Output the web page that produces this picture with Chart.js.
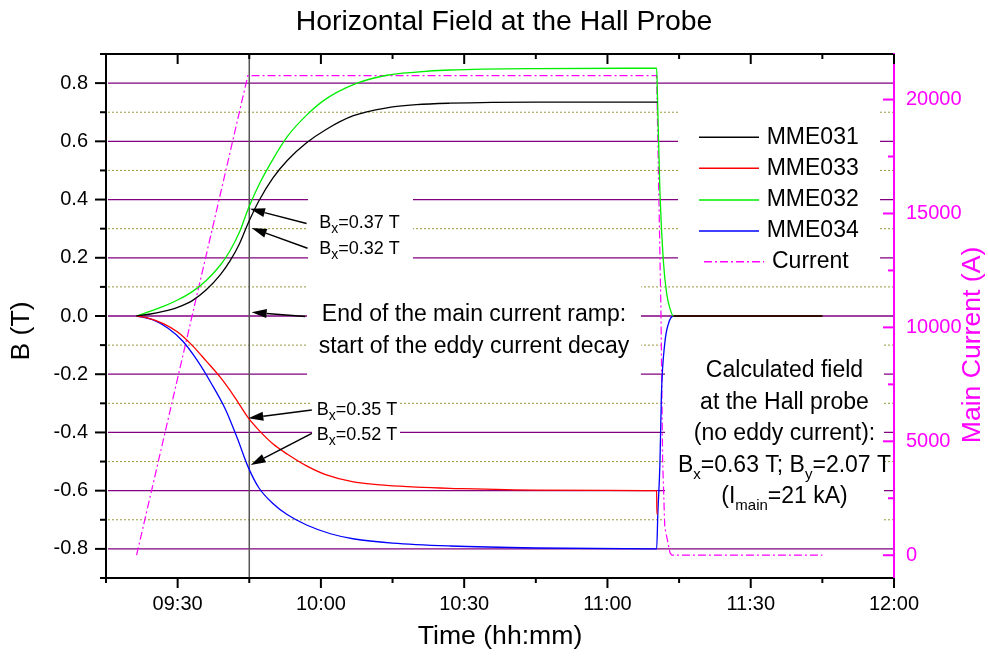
<!DOCTYPE html>
<html><head><meta charset="utf-8">
<script src="https://cdn.jsdelivr.net/npm/chart.js@4.4.1/dist/chart.umd.min.js"></script>
<style>html,body{margin:0;padding:0;background:#fff;}#wrap{width:988px;height:657px;}</style>
</head><body><div id="wrap"><canvas id="c" width="988" height="657"></canvas></div>
<script>
const FAM = '"Liberation Sans", Arial, Helvetica, sans-serif';

// ---- data (time in minutes since midnight) ----
const t031 = [561.4,564,567,570,573,576,579,581,583,584.8,587,590,593,597,601,606.8,613.8,620,627,645,670.3,670.5,671,671.7,672.4,673.2,673.8,705];
const b031 = [0,0.006,0.016,0.03,0.052,0.09,0.143,0.19,0.25,0.32,0.395,0.475,0.535,0.595,0.64,0.688,0.715,0.726,0.731,0.735,0.735,0.735,0.42,0.19,0.077,0.02,0,0];

const t033 = [561.4,564,567,570,573,576,579,582,584.8,587,590,593,597,601,606.8,613.8,620,627,645,670.3,670.35,670.55,671,671.3,672,672.8,673.8,705];
const b033 = [0,-0.008,-0.026,-0.055,-0.10,-0.155,-0.212,-0.28,-0.35,-0.392,-0.44,-0.475,-0.515,-0.545,-0.57,-0.582,-0.588,-0.592,-0.598,-0.60,-0.68,-0.68,-0.5,-0.27,-0.094,-0.025,0,0];

const t032 = [561.4,564,567,570,573,576,579,581,583,584.8,587,590,593,597,601,606.8,613.8,620,627,645,670.3,670.5,671,671.7,672.4,673.2,673.8,705];
const b032 = [0,0.015,0.033,0.055,0.083,0.122,0.176,0.225,0.29,0.369,0.45,0.54,0.617,0.69,0.745,0.795,0.827,0.838,0.845,0.850,0.851,0.735,0.42,0.19,0.077,0.02,0,0];

const t034 = [561.4,565,568,571,574,577,580,582.5,584.8,587,590,593,597,602,607,615,627,645,670.3,670.55,671,671.3,672,672.8,673.8,705];
const b034 = [0,-0.014,-0.042,-0.085,-0.15,-0.23,-0.32,-0.42,-0.52,-0.59,-0.645,-0.683,-0.718,-0.748,-0.766,-0.780,-0.790,-0.797,-0.80,-0.68,-0.5,-0.27,-0.094,-0.025,0,0];

const tCur = [561.4,584.7,670.3,671.2,671.55,672.0,673.1,673.5,705];
const iCur = [0,21050,21050,10750,4180,1240,100,0,0];

// axes
const xMin = 555, xMax = 720, xStep = 15;     // 09:15 .. 12:00
const yMin = -0.9, yMax = 0.9, yStep = 0.1;
const y2Min = -1000, y2Max = 22000;
const y2Ticks = [0,2500,5000,7500,10000,12500,15000,17500,20000];

const names = ['MME031','MME033','MME032','MME034','Current'];
const colors = ['#000000','#ff0000','#00ee00','#0000ff','#ff00ff'];
// during the final drop MME031 lies under MME032 and MME033 under MME034
const hiddenFrom = [670.5, 670.55, null, null, null];
const hiddenTo = 673.8;

// annotation arrows (tail -> tip) in data coordinates (minutes, B)
const arrows = [
  [597.0, 0.318, 585.15, 0.368],
  [597.2, 0.233, 585.5, 0.302],
  [596.7, -0.002, 585.5, 0.013],
  [598.1, -0.323, 584.8, -0.351],
  [598.1, -0.403, 585.3, -0.512]
];

function pts(ts, vs){ return ts.map((t,i)=>({x:t, y:vs[i]})); }
function pad2(n){ return (n<10?'0':'')+n; }
function underSeg(i){
  return { borderColor: c => (hiddenFrom[i] !== null && c.p0.parsed.x >= hiddenFrom[i] && c.p1.parsed.x <= hiddenTo) ? 'rgba(0,0,0,0)' : undefined };
}

function richWidth(ctx, segs, size, sub){
  let w=0; segs.forEach(([s,isSub])=>{ ctx.font=(isSub?sub:size)+'px '+FAM; w+=ctx.measureText(s).width; }); return w;
}
function drawRich(ctx, segs, x, cy, size, sub, dy, align){
  const w = richWidth(ctx, segs, size, sub);
  let cx = align==='center' ? x - w/2 : x;
  ctx.textAlign='left'; ctx.textBaseline='alphabetic';
  const base = cy + 0.358*size;
  segs.forEach(([s,isSub])=>{
    ctx.font=(isSub?sub:size)+'px '+FAM;
    ctx.fillText(s, cx, isSub ? base+dy : base);
    cx += ctx.measureText(s).width;
  });
}
function arrow(ctx, x1,y1,x2,y2){
  const ang = Math.atan2(y2-y1, x2-x1), L=15, H=4.5;
  const bx = x2 - L*Math.cos(ang), by = y2 - L*Math.sin(ang);
  ctx.beginPath(); ctx.moveTo(x1,y1); ctx.lineTo(bx,by); ctx.stroke();
  ctx.beginPath(); ctx.moveTo(x2,y2);
  ctx.lineTo(bx + H*Math.sin(ang), by - H*Math.cos(ang));
  ctx.lineTo(bx - H*Math.sin(ang), by + H*Math.cos(ang));
  ctx.closePath(); ctx.fill();
}

const deco = {
  id:'deco',
  beforeDatasetsDraw(chart){
    const {ctx, chartArea:a, scales:{x,y}} = chart;
    ctx.save();
    y.ticks.forEach(tk=>{
      const k = Math.round(tk.value*10);
      if (Math.abs(k) >= 9) return;
      const py = y.getPixelForValue(tk.value);
      ctx.beginPath();
      if (k % 2 === 0){ ctx.setLineDash([]); ctx.strokeStyle='#800080'; ctx.lineWidth=1.3; }
      else { ctx.setLineDash([2,2]); ctx.strokeStyle='#9a9a3a'; ctx.lineWidth=1; }
      ctx.moveTo(a.left+2, py); ctx.lineTo(a.right-1, py); ctx.stroke();
    });
    ctx.setLineDash([]);
    ctx.fillStyle='#ffffff';
    [[678,100,202,182],[308,193,105,71],[307,281,334,105],[312,392,88,63],[665,338,219,194]]
      .forEach(b=>ctx.fillRect(b[0],b[1],b[2],b[3]));
    const vx = x.getPixelForValue(585);
    ctx.strokeStyle='#555555'; ctx.lineWidth=1.5;
    ctx.beginPath(); ctx.moveTo(vx, a.top); ctx.lineTo(vx, a.bottom); ctx.stroke();
    ctx.restore();
  },
  afterDatasetsDraw(chart){
    const {ctx, chartArea:a, scales:{x,y,y2}} = chart;
    ctx.save();
    ctx.lineWidth=2; ctx.strokeStyle='#000';
    ctx.beginPath(); ctx.moveTo(a.left, a.top); ctx.lineTo(a.left, a.bottom); ctx.lineTo(a.right, a.bottom); ctx.stroke();
    ctx.beginPath(); ctx.moveTo(a.left, a.top); ctx.lineTo(a.right, a.top); ctx.stroke();
    ctx.strokeStyle='#ff00ff';
    ctx.beginPath(); ctx.moveTo(a.right, a.top-1); ctx.lineTo(a.right, a.bottom+1); ctx.stroke();
    ctx.strokeStyle='#000';
    x.ticks.forEach(tk=>{
      const px = x.getPixelForValue(tk.value);
      const L = (tk.value % 30 === 0) ? 10 : 5;
      ctx.beginPath(); ctx.moveTo(px, a.bottom); ctx.lineTo(px, a.bottom+L); ctx.stroke();
      ctx.beginPath(); ctx.moveTo(px, a.top); ctx.lineTo(px, a.top+L); ctx.stroke();
    });
    y.ticks.forEach(tk=>{
      const py = y.getPixelForValue(tk.value);
      const major = Math.round(tk.value*10) % 2 === 0;
      ctx.beginPath(); ctx.moveTo(a.left, py); ctx.lineTo(a.left-(major?11:6), py); ctx.stroke();
    });
    ctx.strokeStyle='#ff00ff';
    y2.ticks.forEach(tk=>{
      const py = y2.getPixelForValue(tk.value);
      const major = tk.value % 5000 === 0;
      ctx.beginPath(); ctx.moveTo(a.right, py); ctx.lineTo(a.right-(major?11:6), py); ctx.stroke();
    });

    // legend
    const rows = [137.3,168.3,200,231,261.7];
    chart.data.datasets.forEach((ds,i)=>{
      const cy = rows[i];
      ctx.strokeStyle = ds.borderColor; ctx.lineWidth = 1.4;
      ctx.setLineDash(ds.borderDash || []);
      const x0 = i===4 ? 704 : 699;
      ctx.beginPath(); ctx.moveTo(x0, cy); ctx.lineTo(x0+60, cy); ctx.stroke();
      ctx.setLineDash([]);
      ctx.fillStyle='#000'; ctx.font='23px '+FAM; ctx.textAlign='left'; ctx.textBaseline='middle';
      ctx.fillText(ds.label, i===4 ? 772 : 766.7, cy);
    });

    ctx.strokeStyle='#000'; ctx.fillStyle='#000'; ctx.lineWidth=1.5;
    arrows.forEach(r=>arrow(ctx, x.getPixelForValue(r[0]), y.getPixelForValue(r[1]), x.getPixelForValue(r[2]), y.getPixelForValue(r[3])));

    ctx.fillStyle='#000';
    drawRich(ctx, [['B',0],['x',1],['=0.37 T',0]], 319.3, 221.7, 18, 14, 5, 'left');
    drawRich(ctx, [['B',0],['x',1],['=0.32 T',0]], 319.3, 247.3, 18, 14, 5, 'left');
    drawRich(ctx, [['B',0],['x',1],['=0.35 T',0]], 316.7, 409, 18, 14, 5, 'left');
    drawRich(ctx, [['B',0],['x',1],['=0.52 T',0]], 316.7, 433.3, 18, 14, 5, 'left');
    drawRich(ctx, [['End of the main current ramp:',0]], 474, 313, 23, 15, 7, 'center');
    drawRich(ctx, [['start of the eddy current decay',0]], 474, 345, 23, 15, 7, 'center');
    drawRich(ctx, [['Calculated field',0]], 784.5, 369, 23, 15, 7, 'center');
    drawRich(ctx, [['at the Hall probe',0]], 784.5, 400.7, 23, 15, 7, 'center');
    drawRich(ctx, [['(no eddy current):',0]], 784.5, 431.7, 23, 15, 7, 'center');
    drawRich(ctx, [['B',0],['x',1],['=0.63 T; B',0],['y',1],['=2.07 T',0]], 784.5, 463.3, 23, 15, 7, 'center');
    drawRich(ctx, [['(I',0],['main',1],['=21 kA)',0]], 784.5, 495, 23, 15, 7, 'center');

    ctx.textAlign='center'; ctx.textBaseline='middle';
    ctx.font='28.4px '+FAM; ctx.fillStyle='#000';
    ctx.fillText('Horizontal Field at the Hall Probe', 504, 22);
    ctx.font='26.6px '+FAM;
    ctx.fillText('Time (hh:mm)', 500, 637);
    ctx.save(); ctx.translate(22, 331); ctx.rotate(-Math.PI/2); ctx.fillText('B (T)', 0, 0); ctx.restore();
    ctx.fillStyle='#ff00ff';
    ctx.save(); ctx.translate(973, 345); ctx.rotate(-Math.PI/2); ctx.fillText('Main Current (A)', 0, 0); ctx.restore();
    ctx.restore();
  }
};

const ctx = document.getElementById('c').getContext('2d');
new Chart(ctx, {
  type:'line',
  data:{datasets:[
    {label:names[0], data:pts(t031,b031), borderColor:colors[0], borderWidth:1.3, pointRadius:0, cubicInterpolationMode:'monotone', yAxisID:'y', segment:underSeg(0)},
    {label:names[1], data:pts(t033,b033), borderColor:colors[1], borderWidth:1.3, pointRadius:0, cubicInterpolationMode:'monotone', yAxisID:'y', segment:underSeg(1)},
    {label:names[2], data:pts(t032,b032), borderColor:colors[2], borderWidth:1.3, pointRadius:0, cubicInterpolationMode:'monotone', yAxisID:'y'},
    {label:names[3], data:pts(t034,b034), borderColor:colors[3], borderWidth:1.3, pointRadius:0, cubicInterpolationMode:'monotone', yAxisID:'y'},
    {label:names[4], data:pts(tCur,iCur), borderColor:colors[4], borderWidth:1.2, borderDash:[8,3,2,3], pointRadius:0, tension:0, yAxisID:'y2'}
  ]},
  options:{
    responsive:false, animation:false, devicePixelRatio:1,
    layout:{padding:{top:54,left:0,right:0,bottom:0}},
    plugins:{legend:{display:false}, title:{display:false}, tooltip:{enabled:false}},
    scales:{
      x:{type:'linear', position:'bottom', min:xMin, max:xMax,
        afterFit(s){ s.height = 79; },
        grid:{display:false, drawTicks:false}, border:{display:false},
        ticks:{stepSize:xStep, autoSkip:false, maxRotation:0, padding:14, color:'#000', font:{family:FAM, size:20},
          callback(v){ return (v % 30 === 0) ? pad2(Math.floor(v/60))+':'+pad2(v%60) : ''; }}},
      y:{type:'linear', position:'left', min:yMin, max:yMax,
        afterFit(s){ s.width = 106; },
        grid:{display:false, drawTicks:false}, border:{display:false},
        ticks:{stepSize:yStep, autoSkip:false, padding:18, color:'#000', font:{family:FAM, size:20},
          callback(v){ const k=Math.round(v*10); return (k%2===0) ? (k/10).toFixed(1) : ''; }}},
      y2:{type:'linear', position:'right', min:y2Min, max:y2Max,
        afterBuildTicks(s){ s.ticks = y2Ticks.map(v=>({value:v})); },
        afterFit(s){ s.width = 94; },
        grid:{display:false, drawTicks:false}, border:{display:false},
        ticks:{autoSkip:false, padding:12, color:'#ff00ff', font:{family:FAM, size:20},
          callback(v){ return (v % 5000 === 0) ? String(v) : ''; }}}
    }
  },
  plugins:[deco]
});
</script></body></html>
